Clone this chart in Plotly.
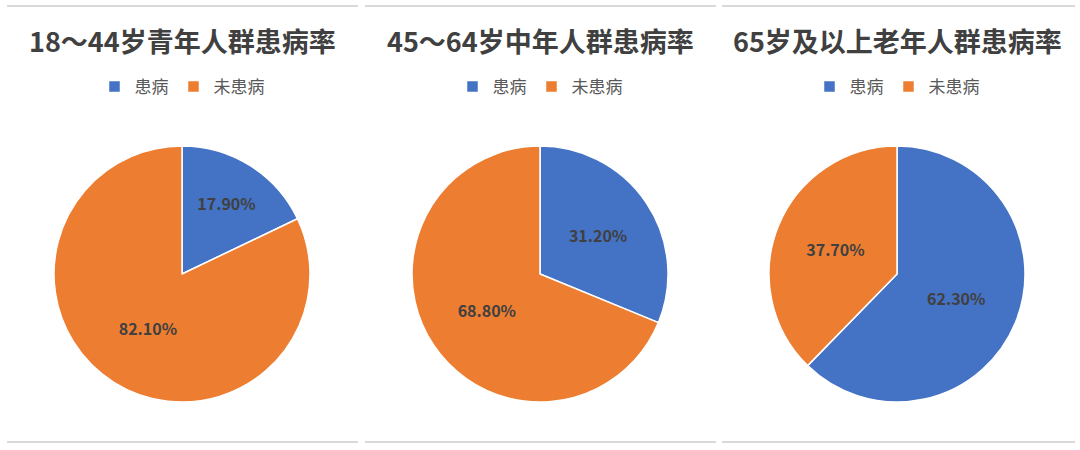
import plotly.graph_objects as go

titles = ["18～44岁青年人群患病率", "45～64岁中年人群患病率", "65岁及以上老年人群患病率"]
labels = ["患病", "未患病"]
sick = [17.9, 31.2, 62.3]
healthy = [82.1, 68.8, 37.7]
colors = ["#4472C4", "#ED7D31"]

W, H = 1080, 450
centers_px = [182, 540, 897]
cy_px = 274
r_px = 128

fig = go.Figure()
legend_names = ["legend", "legend2", "legend3"]
for i in range(3):
    cx = centers_px[i]
    # zero-width suffix keeps each pie's legend entries separate
    lab = [l + "\u200b" * i for l in labels]
    fig.add_trace(go.Pie(
        labels=lab,
        values=[sick[i], healthy[i]],
        sort=False,
        direction="clockwise",
        rotation=0,
        marker=dict(colors=colors, line=dict(color="white", width=1.5)),
        texttemplate="%{value:.2f}%",
        textposition="inside",
        insidetextorientation="horizontal",
        textfont=dict(family="Noto Sans CJK SC", size=16, color="#404040", weight="bold"),
        hoverinfo="label+value",
        domain=dict(x=[(cx - r_px) / W, (cx + r_px) / W],
                    y=[1 - (cy_px + r_px) / H, 1 - (cy_px - r_px) / H]),
        legend=legend_names[i],
        showlegend=True,
    ))

layout_legends = {}
for i, name in enumerate(legend_names):
    layout_legends[name] = dict(
        orientation="h", x=centers_px[i] / W, xanchor="center",
        y=1 - 87 / H, yanchor="middle",
        font=dict(family="Noto Sans CJK SC", size=17, color="#595959"),
        bgcolor="rgba(0,0,0,0)", itemwidth=30, tracegroupgap=0,
    )

annotations = []
for i in range(3):
    annotations.append(dict(
        text=titles[i], x=centers_px[i] / W, y=1 - 40 / H, xref="paper", yref="paper",
        showarrow=False, xanchor="center", yanchor="middle",
        font=dict(family="Noto Sans CJK SC", size=27, color="#404040", weight="bold"),
    ))

panels = [(7, 358), (365, 716), (722, 1075)]
shapes = []
for (x0, x1) in panels:
    for yy in (6, 442):
        shapes.append(dict(type="line", xref="paper", yref="paper",
                           x0=x0 / W, x1=x1 / W, y0=1 - yy / H, y1=1 - yy / H,
                           line=dict(color="#D9D9D9", width=2)))

fig.update_layout(
    width=W, height=H,
    margin=dict(l=0, r=0, t=0, b=0),
    paper_bgcolor="white", plot_bgcolor="white",
    annotations=annotations, shapes=shapes,
    **layout_legends,
)

fig.write_html("out.html", config={"displayModeBar": False},
               post_script="document.body.style.margin='0';")
